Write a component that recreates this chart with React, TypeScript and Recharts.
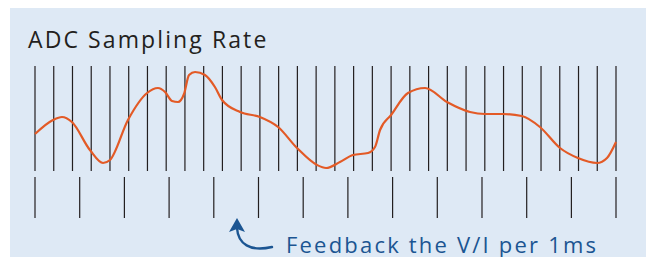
import { LineChart, Line, XAxis, YAxis, ReferenceLine } from "recharts";

// x in sample periods (0..31), y in signal level
const curveX = [0, 0.96, 1.44, 1.97, 2.93, 3.63, 4.0, 4.96, 5.98, 6.56, 6.94, 7.31, 7.63, 7.95, 8.22, 8.54, 9.07, 9.6, 9.98, 10.94, 12.0, 12.97, 13.98, 15.05, 15.53, 16.27, 16.97, 17.77, 18.14, 18.41, 19.0, 19.9, 20.81, 21.98, 23.21, 24.01, 24.97, 25.98, 26.94, 28.01, 28.97, 29.99, 30.52, 31];
const curveY = [84, 98, 101, 96, 68, 55, 58, 98, 125, 130, 126, 117, 116, 124, 143, 146, 143, 131, 118, 106, 101, 91, 70, 53, 50, 56, 63, 65, 71, 88, 103, 125, 130, 116, 106, 104, 104, 102, 91, 70, 60, 55, 60, 76];

// ADC sampling instants
const sampleTicks = [0, 1, 2, 3, 4, 5, 6, 7, 8, 9, 10, 11, 12, 13, 14, 15, 16, 17, 18, 19, 20, 21, 22, 23, 24, 25, 26, 27, 28, 29, 30, 31];
// feedback instants (1ms)
const feedbackTicks = [0, 2.385, 4.77, 7.155, 9.54, 11.925, 14.31, 16.695, 19.08, 21.465, 23.85, 26.235, 28.62, 31];

const sampleSpan = [47, 152];
const feedbackSpan = [0, 41];

const data = curveX.map((x, i) => ({ x, v: curveY[i] }));

export default function App() {
    return (
        <div style={{ position: "absolute", left: 0, top: 0, width: 646, height: 257, background: "#fff", overflow: "hidden" }}>
            <div style={{ position: "absolute", left: 10, top: 8, width: 636, height: 249, background: "#dee9f5" }} />
            <div
                style={{
                    position: "absolute",
                    left: 28,
                    top: 24,
                    fontFamily: "'Open Sans', sans-serif",
                    fontSize: 23,
                    lineHeight: "30px",
                    letterSpacing: 2.1,
                    color: "#231f20",
                    whiteSpace: "nowrap",
                }}
            >
                ADC Sampling Rate
            </div>
            <div style={{ position: "absolute", left: 0, top: 0 }}>
                <LineChart width={646} height={257} data={data} margin={{ top: 66, right: 30, bottom: 39, left: 35 }}>
                    <XAxis type="number" dataKey="x" domain={[0, 31]} hide />
                    <YAxis type="number" domain={[0, 152]} hide />
                    {sampleTicks.map((t) => (
                        <ReferenceLine
                            key={"s" + t}
                            segment={[{ x: t, y: sampleSpan[0] }, { x: t, y: sampleSpan[1] }]}
                            stroke="#231f20"
                            strokeWidth={1.2}
                        />
                    ))}
                    {feedbackTicks.map((t) => (
                        <ReferenceLine
                            key={"f" + t}
                            segment={[{ x: t, y: feedbackSpan[0] }, { x: t, y: feedbackSpan[1] }]}
                            stroke="#231f20"
                            strokeWidth={1.2}
                        />
                    ))}
                    <Line
                        type="monotone"
                        dataKey="v"
                        stroke="#e35a26"
                        strokeWidth={2.2}
                        dot={false}
                        isAnimationActive={false}
                    />
                </LineChart>
            </div>
            <svg style={{ position: "absolute", left: 0, top: 0 }} width={646} height={257}>
                <path d="M237 228 C238 244 250 252 272 247" fill="none" stroke="#1b5592" strokeWidth={2.4} strokeLinecap="round" />
                <path d="M237 218 L229 232 L237 229 L245 232 Z" fill="#1b5592" />
            </svg>
            <div
                style={{
                    position: "absolute",
                    left: 286,
                    top: 229,
                    fontFamily: "'Open Sans', sans-serif",
                    fontSize: 22,
                    lineHeight: "30px",
                    letterSpacing: 2.2,
                    color: "#1b5592",
                    whiteSpace: "nowrap",
                }}
            >
                Feedback the V/I per 1ms
            </div>
        </div>
    );
}
